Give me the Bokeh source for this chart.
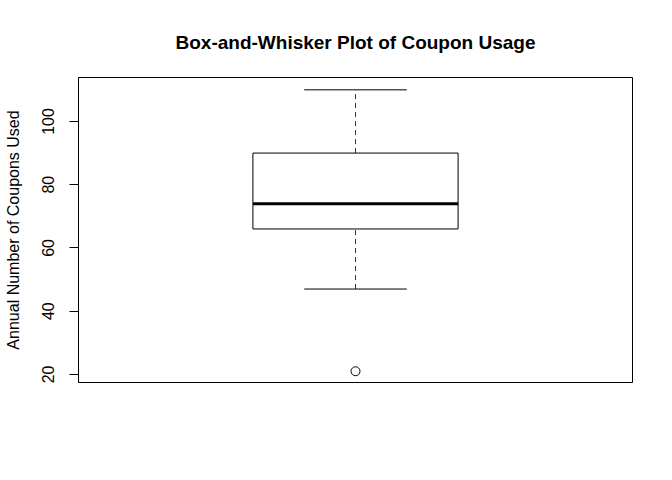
from bokeh.plotting import figure
from bokeh.embed import file_html
from bokeh.resources import INLINE
from bokeh.models import FixedTicker, ColumnDataSource

# Data
category = ["Coupons"]
lower_whisker = [47]
q1 = [66]
median = [74]
q3 = [90]
upper_whisker = [110]
outliers = [21]
y_ticks = [20, 40, 60, 80, 100]

FONT = "Liberation Sans"
xpos = [1.0]

p = figure(width=672, height=480, output_backend="svg", toolbar_location=None,
           x_range=(0.46, 1.54), y_range=(17.44, 113.9),
           min_border_left=78, min_border_right=40, min_border_top=77, min_border_bottom=98)

p.title.text = "Box-and-Whisker Plot of Coupon Usage"
p.title.align = "center"
p.title.text_font = FONT
p.title.text_font_size = "19px"
p.title.text_font_style = "bold"
p.title.text_color = "black"
p.title.standoff = 50

p.xaxis.visible = False
p.grid.visible = False
p.outline_line_color = "black"
p.outline_line_width = 1
p.outline_line_alpha = 1
p.background_fill_color = "white"
p.border_fill_color = "white"

ax = p.yaxis[0]
ax.ticker = FixedTicker(ticks=y_ticks)
ax.minor_tick_line_color = None
ax.major_tick_out = 9
ax.major_tick_in = 0
ax.major_tick_line_color = "black"
ax.axis_line_color = "black"
ax.major_label_orientation = "vertical"
ax.major_label_text_font = FONT
ax.major_label_text_font_size = "16px"
ax.major_label_text_color = "black"
ax.major_label_standoff = 15
ax.axis_label = "Annual Number of Coupons Used"
ax.axis_label_text_font = FONT
ax.axis_label_text_font_size = "16px"
ax.axis_label_text_font_style = "normal"
ax.axis_label_text_color = "black"
ax.axis_label_standoff = 18

src = ColumnDataSource(dict(x=xpos, lw=lower_whisker, q1=q1, med=median, q3=q3, uw=upper_whisker,
                            xl=[v - 0.1 for v in xpos], xr=[v + 0.1 for v in xpos],
                            bl=[v - 0.2 for v in xpos], br=[v + 0.2 for v in xpos]))

# whiskers (dashed)
p.segment(x0="x", y0="q3", x1="x", y1="uw", source=src, line_color="#333333", line_dash="5 4", line_width=1)
p.segment(x0="x", y0="lw", x1="x", y1="q1", source=src, line_color="#333333", line_dash="5 4", line_width=1)
# caps
p.segment(x0="xl", y0="uw", x1="xr", y1="uw", source=src, line_color="black", line_width=1)
p.segment(x0="xl", y0="lw", x1="xr", y1="lw", source=src, line_color="black", line_width=1)
# box
p.vbar(x="x", bottom="q1", top="q3", width=0.4, source=src, fill_color="white", line_color="black", line_width=1)
# median
p.segment(x0="bl", y0="med", x1="br", y1="med", source=src, line_color="black", line_width=3)
# outliers
p.scatter(x=[xpos[0]] * len(outliers), y=outliers, marker="circle", size=9,
          fill_color=None, line_color="black", line_width=1)

open("out.html", "w").write(file_html(p, INLINE))
